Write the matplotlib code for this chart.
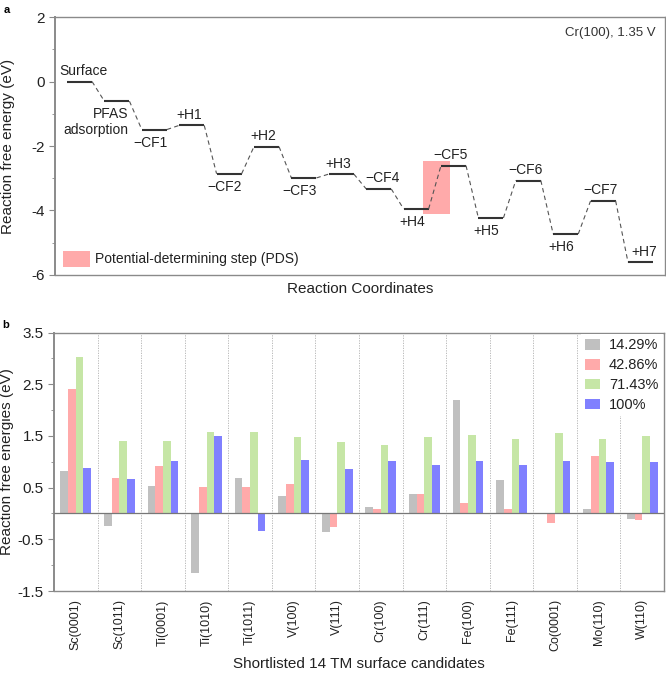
import numpy as np
import matplotlib
matplotlib.use("Agg")
import matplotlib.pyplot as plt
from matplotlib.patches import Rectangle, Patch
from matplotlib.ticker import MultipleLocator

plt.rcParams['font.family'] = ['Liberation Sans', 'DejaVu Sans']
plt.rcParams['axes.unicode_minus'] = False

# -------------------------
# Panel a: free energy diagram, Cr(100) at 1.35 V
# -------------------------
states = ["Surface", "PFAS\nadsorption", "\u2212CF1", "+H1", "\u2212CF2", "+H2",
          "\u2212CF3", "+H3", "\u2212CF4", "+H4", "\u2212CF5", "+H5",
          "\u2212CF6", "+H6", "\u2212CF7", "+H7"]
energies = [0.0, -0.61, -1.49, -1.36, -2.86, -2.02, -2.99, -2.87,
            -3.33, -3.95, -2.61, -4.23, -3.07, -4.73, -3.70, -5.60]
label_side = ["above", "pfas", "below", "above", "below", "above", "below", "above",
              "above", "below", "above", "below", "above", "below", "above", "above"]
pds_step = 9  # +H4 -> -CF5

# -------------------------
# Panel b: reaction free energies on 14 TM surfaces
# -------------------------
surfaces = ["Sc(0001)", "Sc(1011)", "Ti(0001)", "Ti(1010)", "Ti(1011)", "V(100)",
            "V(111)", "Cr(100)", "Cr(111)", "Fe(100)", "Fe(111)", "Co(0001)",
            "Mo(110)", "W(110)"]
coverages = ["14.29%", "42.86%", "71.43%", "100%"]
dg_14 = [0.82, -0.25, 0.54, -1.15, 0.68, 0.33, -0.35, 0.12, 0.37, 2.19, 0.64, 0.01, 0.08, -0.10]
dg_43 = [2.41, 0.69, 0.92, 0.51, 0.51, 0.57, -0.26, 0.08, 0.38, 0.21, 0.08, -0.19, 1.12, -0.12]
dg_71 = [3.02, 1.41, 1.41, 1.58, 1.57, 1.48, 1.38, 1.33, 1.48, 1.52, 1.45, 1.55, 1.44, 1.49]
dg_100 = [0.88, 0.67, 1.02, 1.50, -0.33, 1.03, 0.86, 1.02, 0.93, 1.02, 0.93, 1.02, 1.00, 0.99]
bar_colors = ["#c0c0c0", "#ffaaaa", "#c6e6a6", "#8080ff"]

spine_col = "#8a8a8a"

fig = plt.figure(figsize=(6.66, 6.73), dpi=100)
ax1 = fig.add_axes([0.0826, 0.5914, 0.9159, 0.3833])
ax2 = fig.add_axes([0.0811, 0.1218, 0.9159, 0.3840])

# --- panel a
w = 0.67
for i, e in enumerate(energies):
    ax1.plot([i, i + w], [e, e], color="#333333", lw=1.5, zorder=3, solid_capstyle="butt")
    if i < len(energies) - 1:
        ax1.plot([i + w, i + 1], [e, energies[i + 1]], color="#555555", lw=0.8,
                 ls=(0, (4, 3)), zorder=3)

e0, e1 = energies[pds_step], energies[pds_step + 1]
ax1.add_patch(Rectangle((pds_step + 0.53, e0 - 0.15), 0.70, (e1 + 0.16) - (e0 - 0.15),
                        facecolor="#ffaaaa", edgecolor="none", zorder=2))

for i, (lab, side) in enumerate(zip(states, label_side)):
    xc = i + w / 2
    if side == "pfas":
        ax1.annotate(lab, (i + w, energies[i]), xytext=(-1, -15), textcoords="offset points",
                     ha="right", va="center", fontsize=10, color="#222222", linespacing=1.2)
    elif side == "above":
        dx = 3 if i in (0, 8, 15) else -2
        ax1.annotate(lab, (xc, energies[i]), xytext=(dx, 7.5), textcoords="offset points",
                     ha="center", va="center", fontsize=10, color="#222222")
    else:
        ax1.annotate(lab, (xc, energies[i]), xytext=(-3, -9.5), textcoords="offset points",
                     ha="center", va="center", fontsize=10, color="#222222")

ax1.text(0.985, 0.94, "Cr(100), 1.35 V", transform=ax1.transAxes, ha="right", va="center",
         fontsize=9.5, color="#333333")
ax1.legend(handles=[Patch(facecolor="#ffaaaa", edgecolor="none",
                          label="Potential-determining step (PDS)")],
           loc="lower left", frameon=False, fontsize=10, handlelength=1.9, handleheight=1.4,
           borderaxespad=0.2, handletextpad=0.4, labelcolor="#222222")

ax1.set_xlim(-0.32, len(energies) - 1 + w + 0.32)
ax1.set_ylim(-6, 2)
ax1.yaxis.set_major_locator(MultipleLocator(2))
ax1.yaxis.set_minor_locator(MultipleLocator(1))
ax1.set_xticks([])
ax1.set_xlabel("Reaction Coordinates", fontsize=11, color="#222222", labelpad=5)
ax1.set_ylabel("Reaction free energy (eV)", fontsize=11, color="#222222")
ax1.yaxis.set_label_coords(-0.065, 0.5)

# --- panel b
x = np.arange(len(surfaces))
bw = 0.176
for k, (vals, c, lab) in enumerate(zip([dg_14, dg_43, dg_71, dg_100], bar_colors, coverages)):
    ax2.bar(x + (k - 1.5) * bw, vals, width=bw, color=c, label=lab, zorder=2)
for xs in x[:-1] + 0.5:
    ax2.axvline(xs, color="#b0b0b0", lw=0.6, ls=(0, (1.5, 1.5)), zorder=1)
ax2.axhline(0, color="#777777", lw=0.9, zorder=3)

ax2.set_xlim(-0.5, len(surfaces) - 0.5)
ax2.set_ylim(-1.5, 3.5)
ax2.set_yticks([3.5, 2.5, 1.5, 0.5, -0.5, -1.5])
ax2.set_yticks([3.0, 2.0, 1.0, 0.0, -1.0], minor=True)
ax2.set_xticks(x)
ax2.set_xticklabels(surfaces, rotation=90, fontsize=9, color="#222222")
ax2.tick_params(axis="x", length=0, pad=6)
ax2.set_xlabel("Shortlisted 14 TM surface candidates", fontsize=11, color="#222222", labelpad=4)
ax2.set_ylabel("Reaction free energies (eV)", fontsize=11, color="#222222")
ax2.yaxis.set_label_coords(-0.065, 0.5)
leg = ax2.legend(loc="upper right", fontsize=10.5, frameon=True, fancybox=False,
                 handlelength=1.0, handleheight=0.75, labelspacing=0.4,
                 borderaxespad=0.1, borderpad=0.3, handletextpad=0.6, labelcolor="#222222")
leg.get_frame().set_edgecolor("none")
leg.get_frame().set_facecolor("white")
leg.get_frame().set_alpha(1)
leg.set_zorder(5)

for ax in (ax1, ax2):
    for sp in ax.spines.values():
        sp.set_color(spine_col)
        sp.set_linewidth(1.0)
    ax.spines["left"].set_linewidth(1.4)
    ax.tick_params(axis="y", which="major", length=4, color=spine_col, labelsize=11,
                   labelcolor="#222222")
    ax.tick_params(axis="y", which="minor", length=2.5, color=spine_col)

fig.text(0.006, 0.992, "a", fontsize=8, fontweight="bold", va="top")
fig.text(0.004, 0.525, "b", fontsize=8, fontweight="bold", va="top")

fig.savefig("out.png", dpi=100)
